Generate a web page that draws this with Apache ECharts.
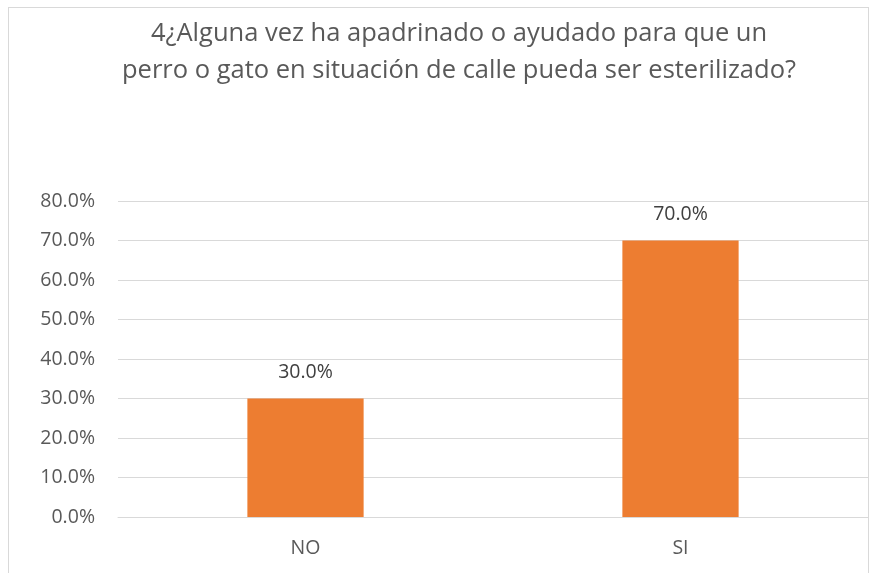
<!DOCTYPE html>
<html>
<head>
<meta charset="utf-8">
<script src="https://cdn.jsdelivr.net/npm/echarts@6/dist/echarts.min.js"></script>
<style>
  html, body { margin: 0; padding: 0; background: #fff; }
  #frame { position: absolute; left: 8px; top: 7px; width: 861px; height: 600px; border: 1px solid #d9d9d9; box-sizing: border-box; }
  #chart { position: absolute; left: 0; top: 0; width: 876px; height: 573px; }
</style>
</head>
<body>
<div id="frame"></div>
<div id="chart"></div>
<script>
const categories = ['NO', 'SI']
const values = [0.30, 0.70]
const yMax = 0.8
const yStep = 0.1

const font = '"Open Sans", "Noto Sans", sans-serif'
const chart = echarts.init(document.getElementById('chart'))
const option = {
  animation: false,
  textStyle: { fontFamily: font },
  title: {
    text: '4¿Alguna vez ha apadrinado o ayudado para que un\nperro o gato en situación de calle pueda ser esterilizado?',
    left: 454,
    textAlign: 'center',
    top: 10,
    textStyle: {
      fontSize: 25.5,
      fontWeight: 'normal',
      color: '#595959',
      lineHeight: 37,
      fontFamily: font
    }
  },
  grid: { left: 118, right: 8, top: 201, bottom: 56, containLabel: false },
  xAxis: {
    type: 'category',
    data: categories,
    axisLine: { lineStyle: { color: '#d9d9d9', width: 1 } },
    axisTick: { show: false },
    axisLabel: { color: '#595959', fontSize: 19.5, margin: 21, fontFamily: font }
  },
  yAxis: {
    type: 'value',
    min: 0,
    max: yMax,
    interval: yStep,
    axisLine: { show: false },
    axisTick: { show: false },
    splitLine: { lineStyle: { color: '#d9d9d9', width: 1 } },
    axisLabel: {
      color: '#595959',
      fontSize: 19.5,
      margin: 23,
      fontFamily: font,
      formatter: v => (v * 100).toFixed(1) + '%'
    }
  },
  series: [{
    type: 'bar',
    data: values,
    barWidth: '31%',
    itemStyle: { color: '#ed7d31' },
    label: {
      show: true,
      position: 'top',
      distance: 16,
      color: '#404040',
      fontSize: 19.5,
      fontFamily: font,
      formatter: p => (p.value * 100).toFixed(1) + '%'
    }
  }]
}
chart.setOption(option)
</script>
</body>
</html>
